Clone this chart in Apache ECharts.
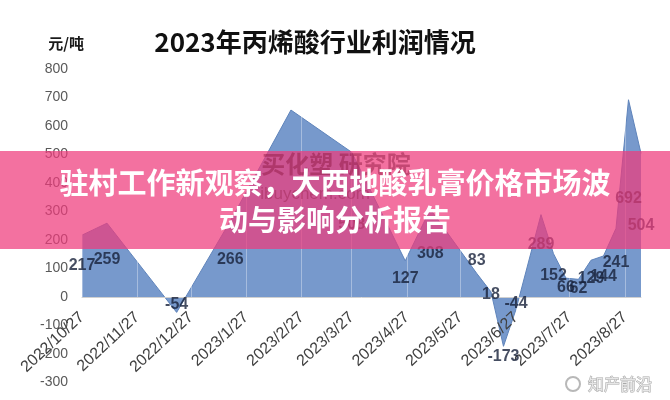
<!DOCTYPE html>
<html><head><meta charset="utf-8">
<script src="https://cdn.jsdelivr.net/npm/echarts@6/dist/echarts.min.js"></script>
<style>html,body{margin:0;padding:0;background:#fff}#c{width:670px;height:400px}</style>
</head><body><div id="c"></div>
<script>
// ---- data ----
const dates = ['2022-10-27','2022-11-10','2022-12-19','2023-01-18','2023-02-21','2023-03-27','2023-04-26','2023-05-10','2023-06-05','2023-06-13','2023-06-20','2023-06-27','2023-07-11','2023-07-18','2023-07-25','2023-08-01','2023-08-08','2023-08-15','2023-08-22','2023-08-29','2023-09-05'];
const profits = [217,259,-54,266,656,508,127,308,83,18,-173,-44,289,152,66,62,129,144,241,692,504];
const hiddenLabels = [4];
const tickDates = ['2022-10-27','2022-11-27','2022-12-27','2023-01-27','2023-02-27','2023-03-27','2023-04-27','2023-05-27','2023-06-27','2023-07-27','2023-08-27'];
const yMin = -300, yMax = 800, yStep = 100;
const titleText = '2023年丙烯酸行业利润情况';
const unitText = '元/吨';
const bannerLines = ['驻村工作新观察，大西地酸乳膏价格市场波', '动与影响分析报告'];

// label style tweaks (offsets in px)
const labelOffsets = {8: [0, -25], 10: [0, 35], 12: [0, -11]};

const toTime = s => { const p = s.split('-').map(Number); return new Date(p[0], p[1] - 1, p[2]).getTime(); };
const fmtDate = v => { const d = new Date(v); return d.getFullYear() + '/' + (d.getMonth() + 1) + '/' + d.getDate(); };
const xs = dates.map(toTime);
const tickXs = tickDates.map(toTime);

const W = 670, H = 400;
const gridBox = {left: 82, right: 29, top: 69, bottom: 17.5};
const plotH = H - gridBox.top - gridBox.bottom;
// move the category axis up to the zero line
const zeroOffset = -plotH * (0 - yMin) / (yMax - yMin);

const chart = echarts.init(document.getElementById('c'), null, {renderer: 'canvas'});

chart.setOption({
  animation: false,
  backgroundColor: '#ffffff',
  grid: Object.assign({containLabel: false, outerBoundsMode: 'none'}, gridBox),
  xAxis: {
    type: 'value',
    min: xs[0],
    max: xs[xs.length - 1],
    z: 3,
    offset: zeroOffset,
    axisLine: {show: true, onZero: false, lineStyle: {color: '#d0d0d0', width: 1}},
    axisTick: {show: false, customValues: tickXs},
    splitLine: {show: true, lineStyle: {color: 'rgba(255,255,255,0.35)', width: 1}},
    axisLabel: {
      customValues: tickXs,
      rotate: 43, margin: 18, fontSize: 16, color: '#404040',
      fontFamily: 'Liberation Sans', hideOverlap: false,
      formatter: fmtDate
    }
  },
  yAxis: {
    type: 'value', min: yMin, max: yMax, interval: yStep,
    name: unitText, nameLocation: 'end', nameGap: 26,
    nameTextStyle: {color: '#1a1a1a', fontSize: 15, fontWeight: 'bold', align: 'right', verticalAlign: 'middle', fontFamily: 'Noto Sans CJK SC', padding: [0, -2, 0, 0]},
    axisLine: {show: false}, axisTick: {show: false},
    splitLine: {show: false},
    axisLabel: {color: '#595959', fontSize: 14, margin: 14, fontFamily: 'Liberation Sans'}
  },
  series: [
    {
      type: 'line',
      data: xs.map((x, i) => [x, profits[i]]),
      symbol: 'none',
      lineStyle: {color: '#5f84bb', width: 1},
      areaStyle: {color: '#7799cc', opacity: 1},
      z: 2
    },
    {
      type: 'scatter',
      symbolSize: 0,
      silent: true,
      z: 4,
      data: xs.map((x, i) => ({
        value: [x, profits[i] / 2],
        label: {show: hiddenLabels.indexOf(i) < 0, offset: labelOffsets[i] || [0, 0]}
      })),
      label: {
        show: true, position: 'inside',
        formatter: p => String(profits[p.dataIndex]),
        fontSize: 16, fontWeight: 'bold', color: '#16203a', fontFamily: 'Liberation Sans'
      }
    }
  ],
  graphic: [
    {type: 'text', x: 315, y: 42, z: 10, style: {text: titleText, fill: '#111', font: 'bold 26px "Noto Sans CJK SC"', align: 'center', verticalAlign: 'middle'}},
    {type: 'rect', shape: {x: 0, y: 151, width: 670, height: 98}, z: 100, style: {fill: 'rgba(238,58,124,0.72)'}},
    {type: 'text', x: 336, y: 164, z: 101, style: {text: '买化塑 研究院', fill: 'rgba(140,20,60,0.45)', font: 'bold 24px "Noto Sans CJK SC"', align: 'center', verticalAlign: 'middle'}},
    {type: 'text', x: 315, y: 194, z: 101, style: {text: 'ibuychem.com', fill: 'rgba(140,20,60,0.35)', font: '17px "Liberation Sans"', align: 'center', verticalAlign: 'middle'}},
    {type: 'text', x: 335, y: 183, z: 102, style: {text: bannerLines[0], fill: '#fff', font: 'bold 29px "Noto Sans CJK SC"', align: 'center', verticalAlign: 'middle', shadowColor: 'rgba(0,0,0,0.25)', shadowBlur: 2}},
    {type: 'text', x: 335, y: 220, z: 102, style: {text: bannerLines[1], fill: '#fff', font: 'bold 29px "Noto Sans CJK SC"', align: 'center', verticalAlign: 'middle', shadowColor: 'rgba(0,0,0,0.25)', shadowBlur: 2}},
    {type: 'circle', shape: {cx: 573, cy: 384, r: 7}, z: 100, style: {fill: 'none', stroke: '#b8b8b8', lineWidth: 2}},
    {type: 'text', x: 620, y: 384, z: 100, style: {text: '知产前沿', fill: '#e6e6e6', stroke: '#a8a8a8', lineWidth: 1, font: '16px "Noto Sans CJK SC"', align: 'center', verticalAlign: 'middle'}}
  ]
});
</script></body></html>
